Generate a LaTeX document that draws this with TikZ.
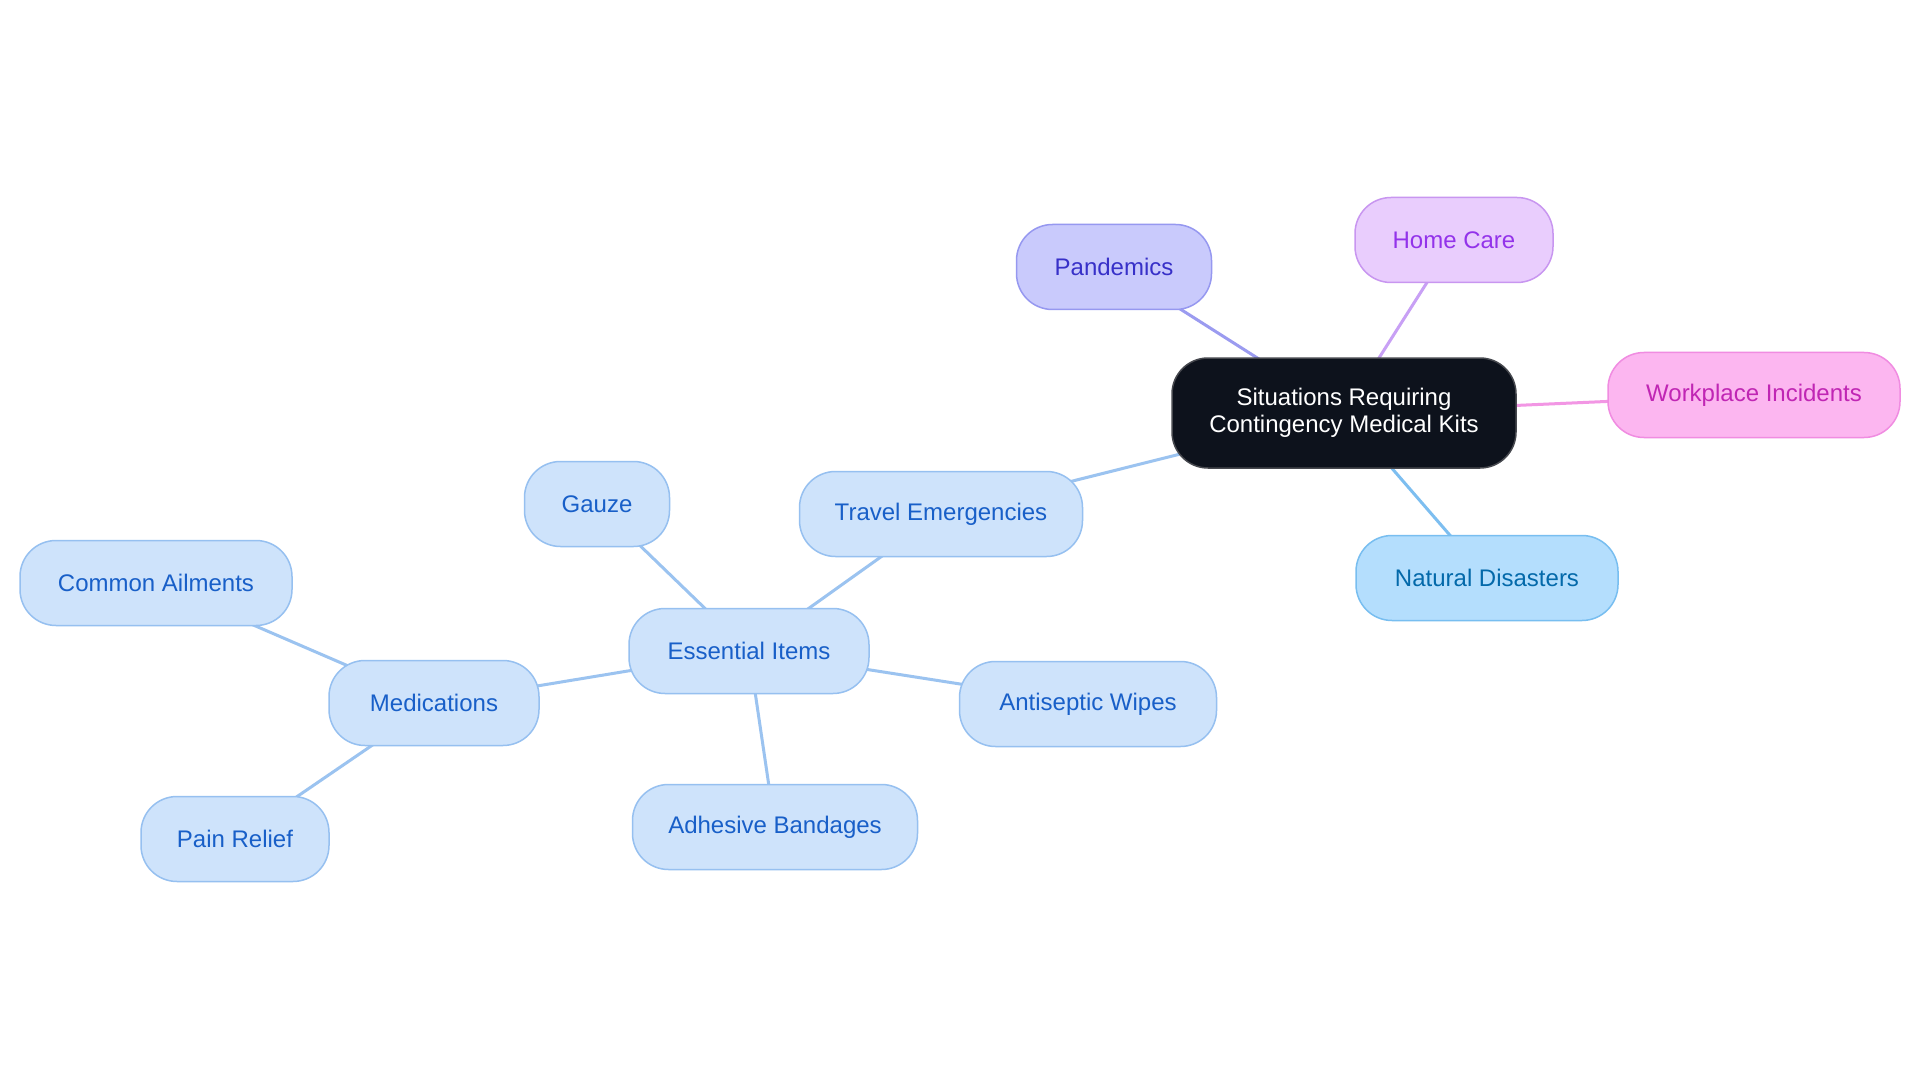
\documentclass[tikz,border=0pt]{standalone}
\usepackage{fontspec}
\setmainfont{Liberation Sans}
\usetikzlibrary{backgrounds}
\definecolor{rootfill}{RGB}{13,18,28}
\definecolor{rootdraw}{RGB}{70,72,78}
\definecolor{pfill}{RGB}{201,202,252}
\definecolor{pdraw}{RGB}{150,152,240}
\definecolor{ptext}{RGB}{55,48,200}
\definecolor{pedge}{RGB}{155,155,240}
\definecolor{hfill}{RGB}{233,205,253}
\definecolor{hdraw}{RGB}{200,150,240}
\definecolor{htext}{RGB}{147,51,234}
\definecolor{hedge}{RGB}{200,160,245}
\definecolor{wfill}{RGB}{252,182,240}
\definecolor{wdraw}{RGB}{240,140,225}
\definecolor{wtext}{RGB}{192,38,180}
\definecolor{wedge}{RGB}{242,150,228}
\definecolor{nfill}{RGB}{180,222,253}
\definecolor{ndraw}{RGB}{120,190,240}
\definecolor{ntext}{RGB}{3,105,170}
\definecolor{nedge}{RGB}{125,190,240}
\definecolor{bfill}{RGB}{206,227,251}
\definecolor{bdraw}{RGB}{150,192,240}
\definecolor{btext}{RGB}{24,95,200}
\definecolor{bedge}{RGB}{155,195,240}
\tikzset{
  mm/.style={rounded corners=36pt, line width=1.5pt, minimum height=85pt,
    inner sep=0pt, font=\fontsize{24}{27}\selectfont},
  rootbox/.style={mm, fill=rootfill, draw=rootdraw, text=white, align=center,
    minimum height=110pt, minimum width=344pt},
  pbox/.style={mm, fill=pfill, draw=pdraw, text=ptext},
  hbox/.style={mm, fill=hfill, draw=hdraw, text=htext},
  wbox/.style={mm, fill=wfill, draw=wdraw, text=wtext},
  nbox/.style={mm, fill=nfill, draw=ndraw, text=ntext},
  bbox/.style={mm, fill=bfill, draw=bdraw, text=btext},
  link/.style={line width=3pt}
}
\begin{document}
\begin{tikzpicture}[x=1pt,y=-1pt]
\useasboundingbox (0,0) rectangle (1920,1083);
% nodes
\node[rootbox] (root) at (1344,413) {Situations Requiring\\Contingency Medical Kits};
\node[pbox, minimum width=195pt] (pan) at (1114,267) {Pandemics};
\node[hbox, minimum width=198pt] (home) at (1454,240) {Home Care};
\node[wbox, minimum width=292pt] (work) at (1754,395) {Workplace Incidents};
\node[nbox, minimum width=262pt] (nat) at (1487,578) {Natural Disasters};
\node[bbox, minimum width=283pt] (travel) at (941,514) {Travel Emergencies};
\node[bbox, minimum width=240pt] (ess) at (749,651) {Essential Items};
\node[bbox, minimum width=145pt] (gauze) at (597,504) {Gauze};
\node[bbox, minimum width=257pt] (wipes) at (1088,704) {Antiseptic Wipes};
\node[bbox, minimum width=285pt] (band) at (775,827) {Adhesive Bandages};
\node[bbox, minimum width=210pt] (med) at (434,703) {Medications};
\node[bbox, minimum width=272pt] (ail) at (156,583) {Common Ailments};
\node[bbox, minimum width=188pt] (pain) at (235,839) {Pain Relief};
% links
\begin{scope}[on background layer]
\fill[white] (0,0) rectangle (1920,1083);
\draw[link, pedge] (root.center) -- (pan.center);
\draw[link, hedge] (root.center) -- (home.center);
\draw[link, wedge] (root.center) -- (work.center);
\draw[link, nedge] (root.center) -- (nat.center);
\draw[link, bedge] (root.center) -- (travel.center);
\draw[link, bedge] (travel.center) -- (ess.center);
\draw[link, bedge] (ess.center) -- (gauze.center);
\draw[link, bedge] (ess.center) -- (wipes.center);
\draw[link, bedge] (ess.center) -- (band.center);
\draw[link, bedge] (ess.center) -- (med.center);
\draw[link, bedge] (med.center) -- (ail.center);
\draw[link, bedge] (med.center) -- (pain.center);
\end{scope}
\end{tikzpicture}
\end{document}
